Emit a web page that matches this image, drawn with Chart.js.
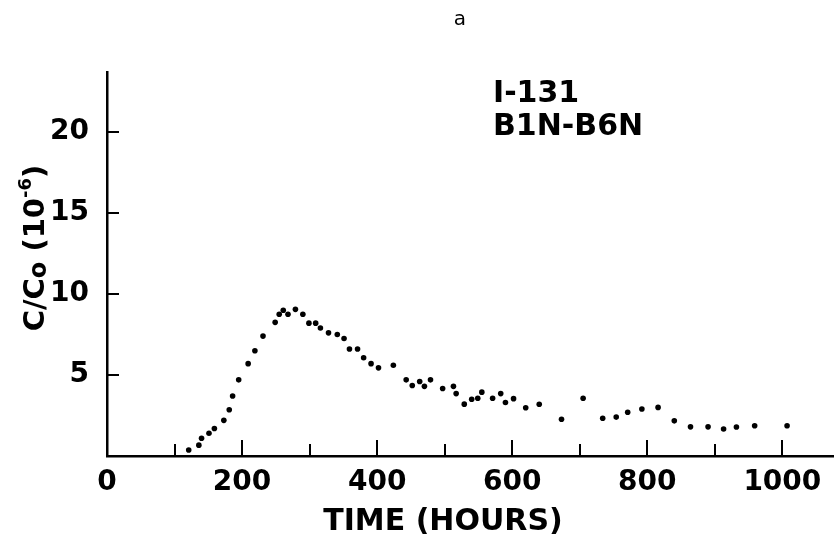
<!DOCTYPE html>
<html>
<head>
<meta charset="utf-8">
<title>I-131 breakthrough</title>
<script src="https://cdn.jsdelivr.net/npm/chart.js@4.4.1/dist/chart.umd.min.js"></script>
<style>
  html, body { margin: 0; padding: 0; background: #fff; }
  #wrap { width: 837px; height: 536px; }
</style>
</head>
<body>
<div id="wrap"><canvas id="chart" width="837" height="536"></canvas></div>
<script>
// Measured concentration ratio C/Co (units of 1e-6) against elapsed time in hours
const hours = [
  121, 136, 140, 151, 159, 173, 181, 186, 195, 209, 219, 231, 249, 255, 261, 268,
  279, 290, 299, 309, 316, 328, 341, 351, 359, 371, 380, 391, 402, 424, 443, 452,
  463, 470, 479, 497, 513, 517, 529, 540, 549, 555, 571, 583, 590, 602, 620, 640,
  673, 705, 734, 754, 771, 792, 816, 840, 864, 890, 913, 932, 959, 1007
];
const ratio = [
  0.37, 0.67, 1.1, 1.4, 1.7, 2.2, 2.85, 3.7, 4.7, 5.7, 6.5, 7.4, 8.25, 8.75, 9.0, 8.75,
  9.05, 8.75, 8.2, 8.2, 7.9, 7.6, 7.5, 7.25, 6.6, 6.6, 6.06, 5.7, 5.44, 5.6, 4.7, 4.35,
  4.6, 4.3, 4.7, 4.17, 4.3, 3.85, 3.2, 3.5, 3.56, 3.94, 3.56, 3.85, 3.3, 3.54, 2.98, 3.19,
  2.27, 3.56, 2.33, 2.4, 2.7, 2.9, 3.0, 2.17, 1.8, 1.8, 1.67, 1.79, 1.87, 1.87
];

// axis tick positions
const xTicks = [100, 200, 300, 400, 500, 600, 700, 800, 900, 1000];
const yTicks = [5, 10, 15, 20];

const panelLabel = 'a';
const noteLines = ['I-131', 'B1N-B6N'];
const xTitle = 'TIME (HOURS)';

const FONT = "'DejaVu Sans', sans-serif";

// inward tick marks plus the free text around the plot
const decorations = {
  id: 'decorations',
  afterDraw(chart) {
    const ctx = chart.ctx;
    const xs = chart.scales.x, ys = chart.scales.y;
    const area = chart.chartArea;
    ctx.save();
    ctx.strokeStyle = '#000';
    ctx.lineWidth = 2;
    xTicks.forEach(v => {
      const px = Math.round(xs.getPixelForValue(v));
      const len = v % 200 === 0 ? 16 : 12;
      ctx.beginPath();
      ctx.moveTo(px, area.bottom);
      ctx.lineTo(px, area.bottom - len);
      ctx.stroke();
    });
    yTicks.forEach(v => {
      const py = Math.round(ys.getPixelForValue(v));
      ctx.beginPath();
      ctx.moveTo(area.left, py);
      ctx.lineTo(area.left + 12, py);
      ctx.stroke();
    });

    ctx.fillStyle = '#000';
    ctx.textAlign = 'center';
    ctx.textBaseline = 'alphabetic';
    ctx.font = '20px ' + FONT;
    ctx.fillText(panelLabel, 460, 25);

    ctx.textAlign = 'left';
    ctx.font = 'bold 30px ' + FONT;
    ctx.fillText(noteLines[0], 493, 102);
    ctx.fillText(noteLines[1], 493, 135);

    ctx.textAlign = 'center';
    ctx.font = 'bold 30px ' + FONT;
    ctx.fillText(xTitle, 443, 530);

    // y title with subscript o and superscript -6
    const parts = [
      { t: 'C/C', size: 29, dy: 0 },
      { t: 'o', size: 24, dy: 2 },
      { t: ' (10', size: 29, dy: 0 },
      { t: '-6', size: 18, dy: -13 },
      { t: ')', size: 29, dy: 0 }
    ];
    let total = 0;
    parts.forEach(p => {
      ctx.font = 'bold ' + p.size + 'px ' + FONT;
      p.w = ctx.measureText(p.t).width;
      total += p.w;
    });
    ctx.translate(33, 248);
    ctx.rotate(-Math.PI / 2);
    ctx.textAlign = 'left';
    let cx = -total / 2;
    parts.forEach(p => {
      ctx.font = 'bold ' + p.size + 'px ' + FONT;
      ctx.fillText(p.t, cx, 11 + p.dy);
      cx += p.w;
    });
    ctx.restore();
  }
};

new Chart(document.getElementById('chart'), {
  type: 'scatter',
  data: {
    datasets: [{
      data: hours.map((h, i) => ({ x: h, y: ratio[i] })),
      pointRadius: 2.8,
      pointBackgroundColor: '#000',
      pointBorderWidth: 0,
      showLine: false
    }]
  },
  options: {
    responsive: false,
    animation: false,
    layout: { padding: { top: 72, right: 1, left: 0, bottom: 0 } },
    plugins: { legend: { display: false }, tooltip: { enabled: false } },
    scales: {
      x: {
        type: 'linear',
        min: 0,
        max: 1075,
        afterFit: s => { s.height = 80; },
        border: { display: true, color: '#000', width: 2.5 },
        grid: { drawOnChartArea: false, drawTicks: false },
        ticks: {
          stepSize: 200,
          includeBounds: false,
          maxRotation: 0,
          padding: 10,
          color: '#000',
          callback: v => String(v),
          font: { family: FONT, size: 28, weight: 'bold' }
        }
      },
      y: {
        min: 0,
        max: 23.7,
        afterFit: s => { s.width = 107; },
        border: { display: true, color: '#000', width: 2.5 },
        grid: { drawOnChartArea: false, drawTicks: false },
        ticks: {
          stepSize: 5,
          includeBounds: false,
          padding: 18,
          color: '#000',
          callback: v => v === 0 ? '' : String(v),
          font: { family: FONT, size: 28, weight: 'bold' }
        }
      }
    }
  },
  plugins: [decorations]
});
</script>
</body>
</html>
